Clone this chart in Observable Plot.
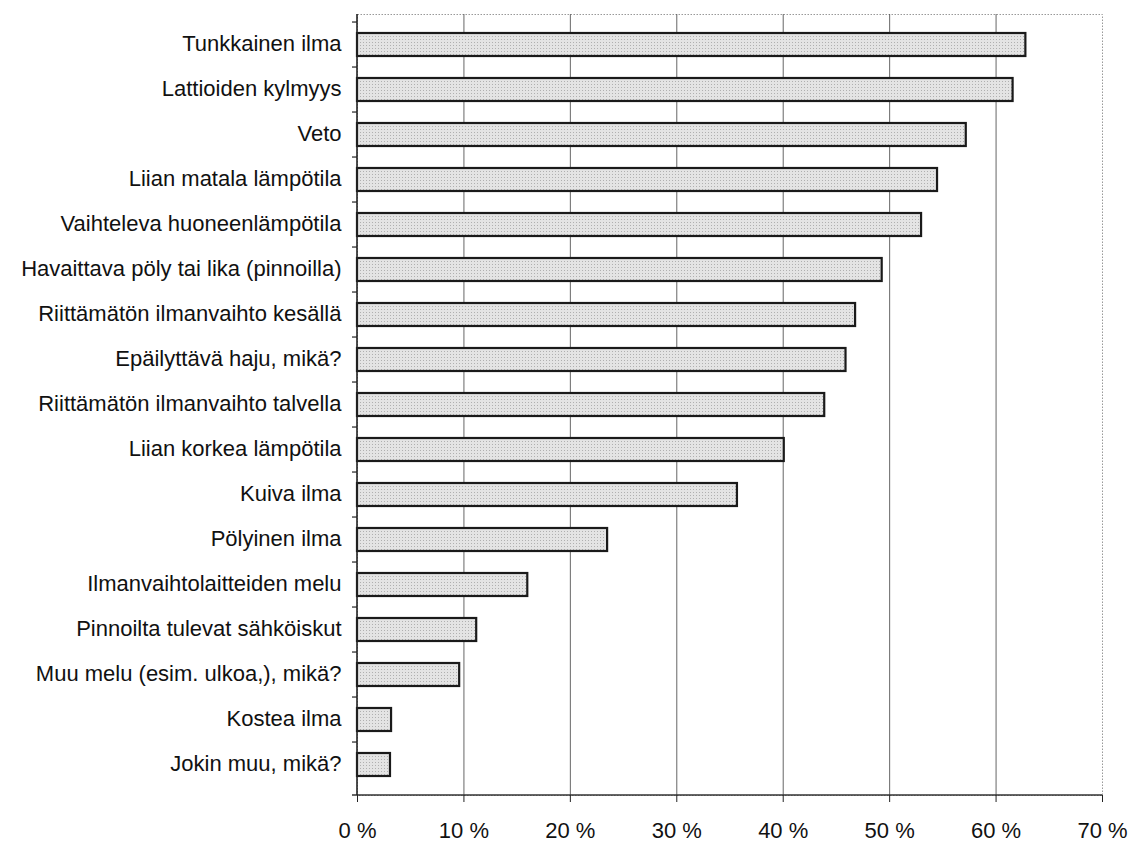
<!DOCTYPE html>
<html>
<head>
<meta charset="utf-8">
<script src="https://cdn.jsdelivr.net/npm/d3@7"></script>
<script src="https://cdn.jsdelivr.net/npm/@observablehq/plot@0.6"></script>
<style>
  html, body { margin: 0; padding: 0; background: #fff; }
  #chart svg { display: block; }
</style>
</head>
<body>
<div id="chart"></div>
<script>
const categories = [
  "Tunkkainen ilma",
  "Lattioiden kylmyys",
  "Veto",
  "Liian matala lämpötila",
  "Vaihteleva huoneenlämpötila",
  "Havaittava pöly tai lika (pinnoilla)",
  "Riittämätön ilmanvaihto kesällä",
  "Epäilyttävä haju, mikä?",
  "Riittämätön ilmanvaihto talvella",
  "Liian korkea lämpötila",
  "Kuiva ilma",
  "Pölyinen ilma",
  "Ilmanvaihtolaitteiden melu",
  "Pinnoilta tulevat sähköiskut",
  "Muu melu (esim. ulkoa,), mikä?",
  "Kostea ilma",
  "Jokin muu, mikä?"
];
const values = [62.8, 61.6, 57.2, 54.5, 53.0, 49.3, 46.8, 45.9, 43.9, 40.1, 35.7, 23.5, 16.0, 11.2, 9.6, 3.2, 3.1];
const xTicks = [0, 10, 20, 30, 40, 50, 60, 70];
const gridTicks = [10, 20, 30, 40, 50, 60];

const data = categories.map((c, i) => ({label: c, value: values[i]}));

const W = 1132, H = 843;
const mL = 357, mR = 30, mT = 14, mB = 48;
const padInner = 0.48;
const step = (H - mT - mB) / categories.length;

// axis lines drawn from the plot's own dimensions
function axisLines(index, scales, values, dimensions) {
  const {width, height, marginLeft, marginRight, marginTop, marginBottom} = dimensions;
  const g = d3.create("svg:g");
  const yb = height - marginBottom;
  g.append("line")
    .attr("x1", marginLeft - 5).attr("x2", width - marginRight)
    .attr("y1", yb).attr("y2", yb)
    .attr("stroke", "#333").attr("stroke-width", 1.6);
  g.append("line")
    .attr("x1", marginLeft).attr("x2", marginLeft)
    .attr("y1", marginTop).attr("y2", yb)
    .attr("stroke", "#222").attr("stroke-width", 1.6);
  return g.node();
}

const chart = Plot.plot({
  width: W,
  height: H,
  marginLeft: mL,
  marginRight: mR,
  marginTop: mT,
  marginBottom: mB,
  style: {fontFamily: "'Liberation Sans', Arial, sans-serif", color: "#111", background: "#fff"},
  x: {domain: [0, 70]},
  y: {domain: categories, paddingInner: padInner, paddingOuter: padInner / 2, align: 0.5},
  marks: [
    Plot.frame({stroke: "#999", strokeDasharray: "1.5,1.5"}),
    Plot.gridX({ticks: gridTicks, stroke: "#555", strokeOpacity: 0.9, strokeWidth: 1}),
    Plot.barX(data, {x: "value", y: "label", fill: "url(#dots)", stroke: "#1a1a1a", strokeWidth: 2.2}),
    axisLines,
    Plot.axisY({tickSize: 0, tickPadding: 16, fontSize: 22, dy: -1, label: null}),
    Plot.axisY({tickSize: 5, tickFormat: () => "", dy: -step / 2, label: null, stroke: "#222", strokeWidth: 1.2}),
    Plot.axisX({ticks: xTicks, tickFormat: d => d + " %", tickSize: 7, tickPadding: 20, fontSize: 22, label: null, stroke: "#222"})
  ]
});

// dotted light-gray texture used by the bars
const svgNS = "http://www.w3.org/2000/svg";
const defs = document.createElementNS(svgNS, "defs");
defs.innerHTML = `
  <pattern id="dots" width="3" height="3" patternUnits="userSpaceOnUse">
    <rect width="3" height="3" fill="#e4e4e4"></rect>
    <rect width="1" height="1" fill="#b0b0b0"></rect>
  </pattern>`;
chart.insertBefore(defs, chart.firstChild);

document.getElementById("chart").appendChild(chart);
</script>
</body>
</html>
